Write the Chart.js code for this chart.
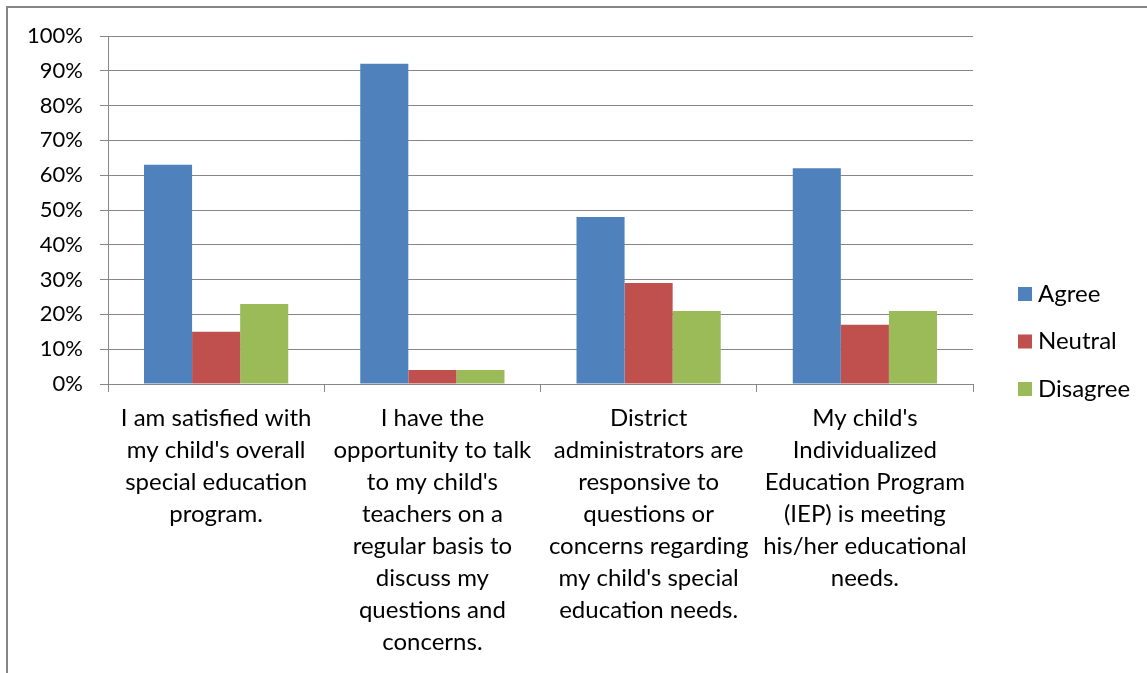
<!DOCTYPE html>
<html lang="en">

<head>
    <meta charset="UTF-8">
    <title>chart</title>
    <script src="https://cdn.jsdelivr.net/npm/chart.js@4.4.0/dist/chart.umd.min.js"></script>
    <style>
        body { margin: 0; background: #fff; }
    </style>
</head>

<body>
    <canvas id="canvas" width="1147" height="673"></canvas>
    <script>
        // survey questions, one per group (already broken into lines)
        const questions = [
            ["I am satisfied with", "my child's overall", "special education", "program."],
            ["I have the", "opportunity to talk", "to my child's", "teachers on a", "regular basis to", "discuss my", "questions and", "concerns."],
            ["District", "administrators are", "responsive to", "questions or", "concerns regarding", "my child's special", "education needs."],
            ["My child's", "Individualized", "Education Program", "(IEP) is meeting", "his/her educational", "needs."]
        ];
        // percent of responses
        const agree = [63, 92, 48, 62];
        const neutral = [15, 4, 29, 17];
        const disagree = [23, 4, 21, 21];

        const FONT = 'Lato, "Liberation Sans", sans-serif';
        const AXIS = '#868686';

        // outer frame of the chart
        const frame = {
            id: 'frame',
            beforeDraw(chart) {
                const ctx = chart.ctx;
                ctx.save();
                ctx.fillStyle = '#fff';
                ctx.fillRect(0, 0, chart.width, chart.height);
                ctx.strokeStyle = AXIS;
                ctx.lineWidth = 2;
                ctx.strokeRect(7, 7, chart.width * 2, chart.height * 2);
                ctx.restore();
            }
        };

        // legend drawn beside the plot, centred lower than the plot's middle
        const sideLegend = {
            id: 'sideLegend',
            afterDraw(chart) {
                const ctx = chart.ctx;
                const x = chart.chartArea.right + 45;
                ctx.save();
                ctx.font = '24px ' + FONT;
                ctx.textBaseline = 'middle';
                chart.data.datasets.forEach((ds, i) => {
                    const y = 294 + i * 47.5;
                    ctx.fillStyle = ds.backgroundColor;
                    ctx.fillRect(x, y - 7, 14, 14);
                    ctx.fillStyle = '#000';
                    ctx.fillText(ds.label, x + 20, y);
                });
                ctx.restore();
            }
        };

        new Chart(document.getElementById('canvas'), {
            type: 'bar',
            data: {
                labels: questions,
                datasets: [
                    { label: 'Agree', data: agree, backgroundColor: '#4F81BD' },
                    { label: 'Neutral', data: neutral, backgroundColor: '#C0504D' },
                    { label: 'Disagree', data: disagree, backgroundColor: '#9BBB59' }
                ]
            },
            options: {
                responsive: false,
                animation: false,
                categoryPercentage: 0.667,
                barPercentage: 1.0,
                layout: { padding: { left: 0, top: 36, right: 174, bottom: 0 } },
                plugins: {
                    legend: { display: false },
                    tooltip: { enabled: false }
                },
                scales: {
                    x: {
                        afterFit(scale) { scale.height = 289; },
                        grid: {
                            offset: true,
                            drawOnChartArea: false,
                            color: AXIS,
                            tickLength: 8
                        },
                        border: { color: AXIS, width: 1 },
                        ticks: {
                            color: '#000',
                            font: { family: FONT, size: 24, lineHeight: 32 / 24 },
                            maxRotation: 0,
                            autoSkip: false,
                            padding: 10
                        }
                    },
                    y: {
                        min: 0,
                        max: 100,
                        afterFit(scale) { scale.width = 108; },
                        grid: { color: AXIS, tickLength: 8 },
                        border: { color: AXIS, width: 1 },
                        ticks: {
                            stepSize: 10,
                            color: '#000',
                            padding: 17,
                            font: { family: FONT, size: 22 },
                            callback: function (value) {
                                return value + '%';
                            }
                        }
                    }
                }
            },
            plugins: [frame, sideLegend]
        });
    </script>
</body>

</html>
